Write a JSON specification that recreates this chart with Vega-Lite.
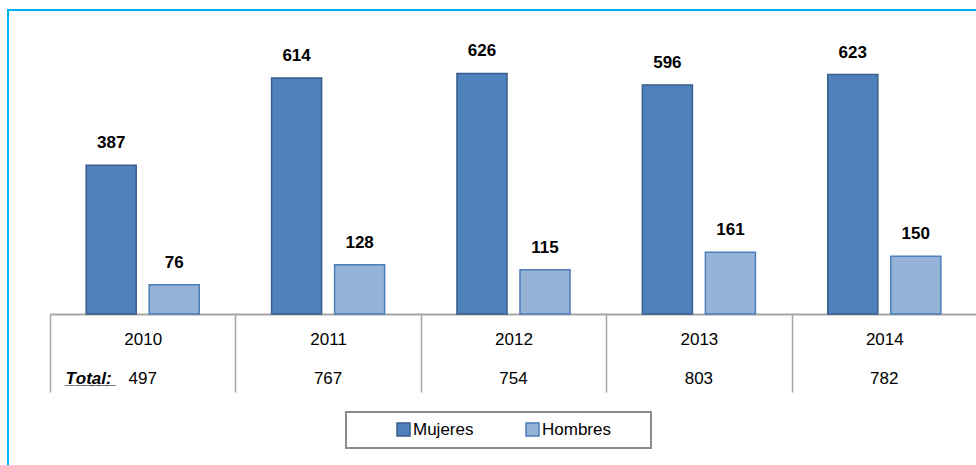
{
  "$schema": "https://vega.github.io/schema/vega-lite/v6.json",
  "autosize": "none",
  "width": 976,
  "height": 460,
  "padding": {"left": 8, "top": 10, "right": 0, "bottom": 0},
  "background": "white",
  "datasets": {
    "bars": [
      {"year": "2010", "sexo": "Mujeres", "valor": 387},
      {"year": "2010", "sexo": "Hombres", "valor": 76},
      {"year": "2011", "sexo": "Mujeres", "valor": 614},
      {"year": "2011", "sexo": "Hombres", "valor": 128},
      {"year": "2012", "sexo": "Mujeres", "valor": 626},
      {"year": "2012", "sexo": "Hombres", "valor": 115},
      {"year": "2013", "sexo": "Mujeres", "valor": 596},
      {"year": "2013", "sexo": "Hombres", "valor": 161},
      {"year": "2014", "sexo": "Mujeres", "valor": 623},
      {"year": "2014", "sexo": "Hombres", "valor": 150}
    ],
    "totals": [
      {"year": "2010", "total": 497},
      {"year": "2011", "total": 767},
      {"year": "2012", "total": 754},
      {"year": "2013", "total": 803},
      {"year": "2014", "total": 782}
    ],
    "caption": [
      {"year": "2010", "label": "T\u0332o\u0332t\u0332a\u0332l\u0332:\u0332"}
    ]
  },
  "layer": [
    {
      "data": {"name": "bars"},
      "mark": {"type": "bar", "strokeWidth": 1.5},
      "encoding": {
        "x": {
          "field": "year", "type": "nominal",
          "scale": {"range": [42, 969], "paddingInner": 0, "paddingOuter": 0},
          "axis": {
            "title": null, "orient": "bottom", "offset": -156,
            "domainColor": "#a6a6a6", "domainWidth": 2,
            "tickBand": "extent", "tickSize": 78, "tickColor": "#a6a6a6", "tickWidth": 1.5,
            "labelPadding": -61, "labelFontSize": 17, "labelColor": "#000000",
            "labelAngle": 0
          }
        },
        "xOffset": {
          "field": "sexo", "type": "nominal",
          "scale": {"domain": ["Mujeres", "Hombres"], "paddingInner": 0.206, "paddingOuter": 0.574}
        },
        "y": {
          "field": "valor", "type": "quantitative",
          "scale": {"domain": [0, 700], "range": [304, 35], "nice": false, "zero": true},
          "axis": null
        },
        "color": {
          "field": "sexo", "type": "nominal",
          "scale": {"domain": ["Mujeres", "Hombres"], "range": ["#4f81bd", "#95b3d7"]},
          "legend": {"title": "\u2800\u2800"}
        },
        "stroke": {
          "field": "sexo", "type": "nominal",
          "scale": {"domain": ["Mujeres", "Hombres"], "range": ["#385d8a", "#4a7ebb"]},
          "legend": {"title": "\u2800\u2800"}
        }
      }
    },
    {
      "data": {"name": "bars"},
      "mark": {"type": "text", "fontWeight": "bold", "fontSize": 17, "baseline": "alphabetic", "dy": -17, "color": "#000000"},
      "encoding": {
        "x": {"field": "year", "type": "nominal"},
        "xOffset": {"field": "sexo", "type": "nominal"},
        "y": {"field": "valor", "type": "quantitative"},
        "text": {"field": "valor", "type": "quantitative"}
      }
    },
    {
      "data": {"name": "totals"},
      "mark": {"type": "text", "fontSize": 17, "baseline": "middle", "color": "#000000"},
      "encoding": {
        "x": {"field": "year", "type": "nominal"},
        "y": {"datum": -169, "type": "quantitative"},
        "text": {"field": "total", "type": "quantitative"}
      }
    },
    {
      "data": {"name": "caption"},
      "mark": {"type": "text", "fontSize": 17, "fontWeight": "bold", "fontStyle": "italic", "baseline": "middle", "align": "right", "dx": -31, "color": "#000000"},
      "encoding": {
        "x": {"field": "year", "type": "nominal"},
        "y": {"datum": -169, "type": "quantitative"},
        "text": {"field": "label", "type": "nominal"}
      }
    }
  ],
  "config": {
    "view": {"stroke": "#00b0f0", "strokeWidth": 2},
    "font": "Liberation Sans, Arial, sans-serif",
    "text": {"font": "Liberation Sans, Arial, sans-serif"},
    "axis": {"labelFont": "Liberation Sans, Arial, sans-serif"},
    "legend": {
      "labelFont": "Liberation Sans, Arial, sans-serif",
      "orient": "none", "legendX": 338, "legendY": 402, "direction": "horizontal",
      "strokeColor": "#8c8c8c", "strokeWidth": 2, "padding": 9,
      "symbolType": "square", "symbolSize": 169, "symbolStrokeWidth": 1.5,
      "labelFontSize": 17, "labelColor": "#000000", "labelOffset": 1,
      "symbolOffset": 40, "columnPadding": 10,
      "titleOrient": "right", "titlePadding": 7, "titleFontSize": 17, "titleFont": "Liberation Sans, Arial, sans-serif"
    }
  }
}
